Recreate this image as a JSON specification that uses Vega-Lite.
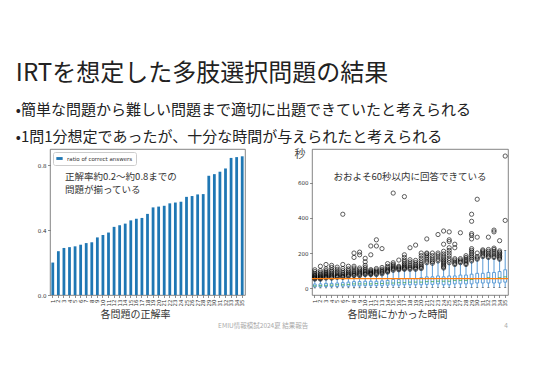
{
  "$schema": "https://vega.github.io/schema/vega-lite/v6.json",
  "background": "white",
  "padding": {"left": 15, "top": 62, "right": 5, "bottom": 5},
  "title": {
    "text": "IRTを想定した多肢選択問題の結果",
    "subtitle": ["•簡単な問題から難しい問題まで適切に出題できていたと考えられる", "•1問1分想定であったが、十分な時間が与えられたと考えられる"],
    "anchor": "start",
    "font": "Noto Sans CJK JP",
    "fontSize": 24,
    "fontWeight": "normal",
    "color": "#222",
    "subtitleFont": "Noto Sans CJK JP",
    "subtitleFontSize": 15,
    "subtitleColor": "#222",
    "subtitleLineHeight": 27,
    "subtitlePadding": 17,
    "offset": 3,
    "dx": -21
  },
  "datasets": {
    "acc": [
      {"q": 1, "ratio": 0.20}, {"q": 2, "ratio": 0.27}, {"q": 3, "ratio": 0.29}, {"q": 4, "ratio": 0.295}, {"q": 5, "ratio": 0.30},
      {"q": 6, "ratio": 0.31}, {"q": 7, "ratio": 0.32}, {"q": 8, "ratio": 0.325}, {"q": 9, "ratio": 0.355}, {"q": 10, "ratio": 0.37},
      {"q": 11, "ratio": 0.385}, {"q": 12, "ratio": 0.42}, {"q": 13, "ratio": 0.43}, {"q": 14, "ratio": 0.44}, {"q": 15, "ratio": 0.46},
      {"q": 16, "ratio": 0.47}, {"q": 17, "ratio": 0.475}, {"q": 18, "ratio": 0.50}, {"q": 19, "ratio": 0.54}, {"q": 20, "ratio": 0.545},
      {"q": 21, "ratio": 0.55}, {"q": 22, "ratio": 0.565}, {"q": 23, "ratio": 0.57}, {"q": 24, "ratio": 0.575}, {"q": 25, "ratio": 0.605},
      {"q": 26, "ratio": 0.61}, {"q": 27, "ratio": 0.62}, {"q": 28, "ratio": 0.622}, {"q": 29, "ratio": 0.735}, {"q": 30, "ratio": 0.745},
      {"q": 31, "ratio": 0.76}, {"q": 32, "ratio": 0.78}, {"q": 33, "ratio": 0.845}, {"q": 34, "ratio": 0.85}, {"q": 35, "ratio": 0.855}
    ],
    "note1": [
      {"q": 3, "v": 0.725, "label": "正解率約0.2〜約0.8までの"},
      {"q": 3, "v": 0.648, "label": "問題が揃っている"}
    ],
    "box": [
      {"q": 1, "lo": 2, "q1": 8, "med": 14, "q3": 24, "hi": 50},
      {"q": 2, "lo": 2, "q1": 8, "med": 15, "q3": 25, "hi": 50},
      {"q": 3, "lo": 2, "q1": 10, "med": 17, "q3": 28, "hi": 55},
      {"q": 4, "lo": 2, "q1": 10, "med": 18, "q3": 28, "hi": 55},
      {"q": 5, "lo": 3, "q1": 10, "med": 20, "q3": 30, "hi": 60},
      {"q": 6, "lo": 3, "q1": 12, "med": 20, "q3": 32, "hi": 60},
      {"q": 7, "lo": 3, "q1": 12, "med": 22, "q3": 35, "hi": 65},
      {"q": 8, "lo": 3, "q1": 14, "med": 25, "q3": 38, "hi": 70},
      {"q": 9, "lo": 3, "q1": 14, "med": 25, "q3": 38, "hi": 70},
      {"q": 10, "lo": 4, "q1": 15, "med": 25, "q3": 40, "hi": 75},
      {"q": 11, "lo": 4, "q1": 15, "med": 25, "q3": 40, "hi": 75},
      {"q": 12, "lo": 4, "q1": 15, "med": 27, "q3": 40, "hi": 75},
      {"q": 13, "lo": 4, "q1": 15, "med": 27, "q3": 42, "hi": 80},
      {"q": 14, "lo": 4, "q1": 18, "med": 30, "q3": 45, "hi": 90},
      {"q": 15, "lo": 5, "q1": 18, "med": 30, "q3": 50, "hi": 100},
      {"q": 16, "lo": 5, "q1": 18, "med": 32, "q3": 50, "hi": 100},
      {"q": 17, "lo": 5, "q1": 20, "med": 32, "q3": 55, "hi": 105},
      {"q": 18, "lo": 5, "q1": 20, "med": 35, "q3": 55, "hi": 105},
      {"q": 19, "lo": 5, "q1": 20, "med": 35, "q3": 55, "hi": 105},
      {"q": 20, "lo": 5, "q1": 20, "med": 35, "q3": 60, "hi": 110},
      {"q": 21, "lo": 5, "q1": 22, "med": 38, "q3": 65, "hi": 140},
      {"q": 22, "lo": 5, "q1": 22, "med": 38, "q3": 65, "hi": 140},
      {"q": 23, "lo": 5, "q1": 25, "med": 40, "q3": 70, "hi": 150},
      {"q": 24, "lo": 5, "q1": 20, "med": 40, "q3": 65, "hi": 110},
      {"q": 25, "lo": 5, "q1": 20, "med": 40, "q3": 70, "hi": 140},
      {"q": 26, "lo": 5, "q1": 25, "med": 45, "q3": 70, "hi": 130},
      {"q": 27, "lo": 5, "q1": 25, "med": 45, "q3": 75, "hi": 140},
      {"q": 28, "lo": 5, "q1": 25, "med": 45, "q3": 75, "hi": 130},
      {"q": 29, "lo": 5, "q1": 25, "med": 50, "q3": 80, "hi": 150},
      {"q": 30, "lo": 5, "q1": 30, "med": 55, "q3": 85, "hi": 160},
      {"q": 31, "lo": 5, "q1": 30, "med": 55, "q3": 85, "hi": 175},
      {"q": 32, "lo": 5, "q1": 30, "med": 60, "q3": 90, "hi": 170},
      {"q": 33, "lo": 5, "q1": 30, "med": 55, "q3": 90, "hi": 170},
      {"q": 34, "lo": 5, "q1": 30, "med": 60, "q3": 95, "hi": 160},
      {"q": 35, "lo": 5, "q1": 35, "med": 65, "q3": 105, "hi": 215}
    ],
    "out": [
      {"q":1,"t":52},{"q":1,"t":56},{"q":1,"t":60},{"q":1,"t":64},{"q":1,"t":68},{"q":1,"t":72},{"q":1,"t":78},{"q":1,"t":85},{"q":1,"t":95},{"q":1,"t":105},
      {"q":2,"t":52},{"q":2,"t":56},{"q":2,"t":60},{"q":2,"t":64},{"q":2,"t":70},{"q":2,"t":75},{"q":2,"t":82},{"q":2,"t":90},{"q":2,"t":100},{"q":2,"t":125},
      {"q":3,"t":58},{"q":3,"t":62},{"q":3,"t":66},{"q":3,"t":70},{"q":3,"t":75},{"q":3,"t":80},{"q":3,"t":86},{"q":3,"t":92},{"q":3,"t":100},{"q":3,"t":110},{"q":3,"t":135},
      {"q":4,"t":58},{"q":4,"t":62},{"q":4,"t":68},{"q":4,"t":74},{"q":4,"t":80},{"q":4,"t":88},{"q":4,"t":96},{"q":4,"t":105},{"q":4,"t":118},{"q":4,"t":130},
      {"q":5,"t":62},{"q":5,"t":66},{"q":5,"t":70},{"q":5,"t":75},{"q":5,"t":82},{"q":5,"t":90},{"q":5,"t":98},{"q":5,"t":108},{"q":5,"t":120},
      {"q":6,"t":62},{"q":6,"t":66},{"q":6,"t":70},{"q":6,"t":76},{"q":6,"t":82},{"q":6,"t":90},{"q":6,"t":100},{"q":6,"t":112},{"q":6,"t":135},{"q":6,"t":420},
      {"q":7,"t":68},{"q":7,"t":72},{"q":7,"t":78},{"q":7,"t":84},{"q":7,"t":92},{"q":7,"t":100},{"q":7,"t":110},{"q":7,"t":125},
      {"q":8,"t":72},{"q":8,"t":76},{"q":8,"t":82},{"q":8,"t":88},{"q":8,"t":95},{"q":8,"t":104},{"q":8,"t":115},{"q":8,"t":125},{"q":8,"t":175},{"q":8,"t":200},
      {"q":9,"t":72},{"q":9,"t":78},{"q":9,"t":84},{"q":9,"t":90},{"q":9,"t":98},{"q":9,"t":106},{"q":9,"t":115},{"q":9,"t":190},{"q":9,"t":205},
      {"q":10,"t":78},{"q":10,"t":82},{"q":10,"t":88},{"q":10,"t":94},{"q":10,"t":100},{"q":10,"t":108},{"q":10,"t":118},{"q":10,"t":130},{"q":10,"t":150},{"q":10,"t":170},
      {"q":11,"t":78},{"q":11,"t":82},{"q":11,"t":86},{"q":11,"t":90},{"q":11,"t":95},{"q":11,"t":100},{"q":11,"t":106},{"q":11,"t":190},{"q":11,"t":240},
      {"q":12,"t":78},{"q":12,"t":84},{"q":12,"t":90},{"q":12,"t":96},{"q":12,"t":104},{"q":12,"t":112},{"q":12,"t":240},{"q":12,"t":275},
      {"q":13,"t":82},{"q":13,"t":88},{"q":13,"t":94},{"q":13,"t":100},{"q":13,"t":108},{"q":13,"t":118},{"q":13,"t":225},
      {"q":14,"t":92},{"q":14,"t":96},{"q":14,"t":102},{"q":14,"t":108},{"q":14,"t":116},{"q":14,"t":125},{"q":14,"t":140},
      {"q":15,"t":102},{"q":15,"t":108},{"q":15,"t":114},{"q":15,"t":120},{"q":15,"t":128},{"q":15,"t":136},{"q":15,"t":145},{"q":15,"t":540},
      {"q":16,"t":105},{"q":16,"t":110},{"q":16,"t":115},{"q":16,"t":120},{"q":16,"t":125},{"q":16,"t":160},
      {"q":17,"t":108},{"q":17,"t":112},{"q":17,"t":118},{"q":17,"t":124},{"q":17,"t":132},{"q":17,"t":140},{"q":17,"t":150},{"q":17,"t":160},{"q":17,"t":175},{"q":17,"t":190},{"q":17,"t":520},
      {"q":18,"t":108},{"q":18,"t":114},{"q":18,"t":120},{"q":18,"t":128},{"q":18,"t":138},{"q":18,"t":150},{"q":18,"t":162},{"q":18,"t":230},
      {"q":19,"t":108},{"q":19,"t":114},{"q":19,"t":120},{"q":19,"t":128},{"q":19,"t":136},{"q":19,"t":146},{"q":19,"t":158},{"q":19,"t":245},
      {"q":20,"t":112},{"q":20,"t":118},{"q":20,"t":126},{"q":20,"t":134},{"q":20,"t":144},{"q":20,"t":156},{"q":20,"t":170},{"q":20,"t":185},{"q":20,"t":200},
      {"q":21,"t":145},{"q":21,"t":155},{"q":21,"t":165},{"q":21,"t":175},{"q":21,"t":185},{"q":21,"t":195},{"q":21,"t":200},{"q":21,"t":280},
      {"q":22,"t":142},{"q":22,"t":150},{"q":22,"t":160},{"q":22,"t":172},{"q":22,"t":185},{"q":22,"t":200},
      {"q":23,"t":155},{"q":23,"t":165},{"q":23,"t":178},{"q":23,"t":190},{"q":23,"t":200},{"q":23,"t":305},
      {"q":24,"t":115},{"q":24,"t":122},{"q":24,"t":130},{"q":24,"t":138},{"q":24,"t":146},{"q":24,"t":154},{"q":24,"t":162},{"q":24,"t":172},{"q":24,"t":182},{"q":24,"t":195},{"q":24,"t":210},{"q":24,"t":250},{"q":24,"t":325},
      {"q":25,"t":145},{"q":25,"t":158},{"q":25,"t":170},{"q":25,"t":185},{"q":25,"t":200},{"q":25,"t":215},{"q":25,"t":230},{"q":25,"t":265},{"q":25,"t":275},{"q":25,"t":320},
      {"q":26,"t":135},{"q":26,"t":142},{"q":26,"t":150},{"q":26,"t":160},{"q":26,"t":168},{"q":26,"t":230},{"q":26,"t":250},
      {"q":27,"t":145},{"q":27,"t":152},{"q":27,"t":160},{"q":27,"t":168},{"q":27,"t":315},
      {"q":28,"t":135},{"q":28,"t":142},{"q":28,"t":150},{"q":28,"t":158},{"q":28,"t":166},{"q":28,"t":175},{"q":28,"t":185},
      {"q":29,"t":155},{"q":29,"t":165},{"q":29,"t":175},{"q":29,"t":185},{"q":29,"t":195},{"q":29,"t":205},{"q":29,"t":215},{"q":29,"t":225},{"q":29,"t":280},{"q":29,"t":300},{"q":29,"t":310},{"q":29,"t":380},{"q":29,"t":420},
      {"q":30,"t":165},{"q":30,"t":172},{"q":30,"t":180},{"q":30,"t":200},{"q":30,"t":290},{"q":30,"t":505},
      {"q":31,"t":180},{"q":31,"t":188},{"q":31,"t":196},{"q":31,"t":205},{"q":31,"t":212},{"q":31,"t":218},
      {"q":32,"t":175},{"q":32,"t":182},{"q":32,"t":190},{"q":32,"t":200},{"q":32,"t":210},{"q":32,"t":220},{"q":32,"t":290},
      {"q":33,"t":175},{"q":33,"t":182},{"q":33,"t":190},{"q":33,"t":200},{"q":33,"t":210},{"q":33,"t":220},{"q":33,"t":228},{"q":33,"t":320},{"q":33,"t":330},
      {"q":34,"t":165},{"q":34,"t":172},{"q":34,"t":180},{"q":34,"t":188},{"q":34,"t":196},{"q":34,"t":204},{"q":34,"t":212},{"q":34,"t":270},
      {"q":35,"t":385},{"q":35,"t":750}
    ],
    "ref": [{"v": 55}],
    "note2": [{"q": 18, "v": 630, "label": "おおよそ60秒以内に回答できている"}],
    "foot": [{"x": 0.444, "label": "EMIU情報模試2024夏 結果報告"}, {"x": 0.95, "label": "4"}]
  },
  "vconcat": [
    {
      "hconcat": [
        {
          "width": 195,
          "height": 146,
          "layer": [
            {
              "data": {"name": "acc"},
              "mark": {"type": "bar"},
              "encoding": {
                "x": {
                  "field": "q", "type": "ordinal",
                  "scale": {"paddingInner": 0.5, "paddingOuter": 0.25},
                  "axis": {"title": "各問題の正解率", "labelAngle": 270, "titleX": 85, "labelOverlap": false}
                },
                "y": {
                  "field": "ratio", "type": "quantitative",
                  "scale": {"domain": [0, 0.9], "nice": false},
                  "axis": {"title": null, "values": [0, 0.1, 0.2, 0.3, 0.4, 0.5, 0.6, 0.7, 0.8], "format": ".1f", "labelOverlap": false}
                },
                "color": {
                  "datum": "ratio of correct answers", "type": "nominal",
                  "scale": {"range": ["#1f77b4"]},
                  "legend": {
                    "title": null, "orient": "top-left", "offset": 3, "padding": 3,
                    "strokeColor": "#ccc", "fillColor": "white", "cornerRadius": 2,
                    "labelFontSize": 5.5, "labelFont": "DejaVu Sans", "labelColor": "#333",
                    "symbolType": "M-1,-0.45L1,-0.45L1,0.45L-1,0.45Z", "symbolSize": 40, "symbolStrokeWidth": 0
                  }
                }
              }
            },
            {
              "data": {"name": "note1"},
              "mark": {"type": "text", "align": "left", "baseline": "middle", "fontSize": 9.5, "color": "#333", "font": "Noto Sans CJK JP", "dx": 1},
              "encoding": {
                "x": {"field": "q", "type": "ordinal"},
                "y": {"field": "v", "type": "quantitative"},
                "text": {"field": "label"}
              }
            }
          ]
        },
        {
          "width": 196,
          "height": 146,
          "encoding": {
            "x": {
              "field": "q", "type": "ordinal",
              "scale": {"paddingInner": 0, "paddingOuter": 0},
              "axis": {"title": "各問題にかかった時間", "labelAngle": 270, "titleX": 85, "labelOverlap": false}
            }
          },
          "layer": [
            {
              "data": {"name": "box"},
              "mark": {"type": "rule", "color": "#5b9bd5", "strokeWidth": 1},
              "encoding": {
                "y": {
                  "field": "lo", "type": "quantitative",
                  "scale": {"domain": [-38, 790], "nice": false, "zero": false},
                  "axis": {"title": "秒", "titleAngle": 0, "titleFontSize": 11, "titleFont": "Noto Sans CJK JP", "titleFontWeight": "normal", "titleColor": "#444", "titleX": -7, "titleY": 5.5, "titleAlign": "right", "titleBaseline": "middle", "values": [0, 100, 200, 300, 400, 500, 600, 700], "labelOverlap": false}
                },
                "y2": {"field": "q1"}
              }
            },
            {
              "data": {"name": "box"},
              "mark": {"type": "rule", "color": "#5b9bd5", "strokeWidth": 1},
              "encoding": {
                "y": {"field": "q3", "type": "quantitative"},
                "y2": {"field": "hi"}
              }
            },
            {
              "data": {"name": "box"},
              "mark": {"type": "bar", "filled": false, "stroke": "#5b9bd5", "strokeWidth": 1, "width": {"band": 0.5}},
              "encoding": {
                "y": {"field": "q1", "type": "quantitative"},
                "y2": {"field": "q3"}
              }
            },
            {
              "data": {"name": "box"},
              "mark": {"type": "tick", "color": "#333", "thickness": 0.8, "size": 2},
              "encoding": {"y": {"field": "hi", "type": "quantitative"}}
            },
            {
              "data": {"name": "box"},
              "mark": {"type": "tick", "color": "#333", "thickness": 0.8, "size": 2},
              "encoding": {"y": {"field": "lo", "type": "quantitative"}}
            },
            {
              "data": {"name": "box"},
              "mark": {"type": "tick", "color": "#2ca02c", "thickness": 1, "size": 3},
              "encoding": {"y": {"field": "med", "type": "quantitative"}}
            },
            {
              "data": {"name": "out"},
              "mark": {"type": "point", "shape": "circle", "filled": false, "stroke": "#000", "strokeWidth": 0.9, "size": 18},
              "encoding": {"y": {"field": "t", "type": "quantitative"}}
            },
            {
              "data": {"name": "ref"},
              "mark": {"type": "rule", "color": "#ff7f0e", "strokeWidth": 1.3},
              "encoding": {"x": null, "y": {"field": "v", "type": "quantitative"}}
            },
            {
              "data": {"name": "note2"},
              "mark": {"type": "text", "align": "center", "baseline": "middle", "fontSize": 9.5, "color": "#333", "font": "Noto Sans CJK JP"},
              "encoding": {
                "y": {"field": "v", "type": "quantitative"},
                "text": {"field": "label"}
              }
            }
          ]
        }
      ],
      "spacing": 47
    },
    {
      "width": 480,
      "height": 8,
      "view": {"stroke": null},
      "data": {"name": "foot"},
      "mark": {"type": "text", "fontSize": 6.5, "color": "#aaa", "font": "Noto Sans CJK JP", "baseline": "middle"},
      "encoding": {
        "x": {"field": "x", "type": "quantitative", "scale": {"domain": [0, 1]}, "axis": null},
        "text": {"field": "label"}
      }
    }
  ],
  "spacing": 1,
  "config": {
    "view": {"stroke": "#666", "strokeWidth": 0.8},
    "axis": {
      "labelFont": "DejaVu Sans", "labelFontSize": 5.5, "labelColor": "#333", "labelOverlap": false,
      "tickColor": "#444", "tickSize": 2.5, "tickWidth": 0.6, "labelPadding": 1.5,
      "domain": false, "grid": false,
      "titleFont": "Noto Sans CJK JP", "titleFontSize": 10, "titleFontWeight": "normal", "titleColor": "#333", "titlePadding": 4
    }
  }
}
